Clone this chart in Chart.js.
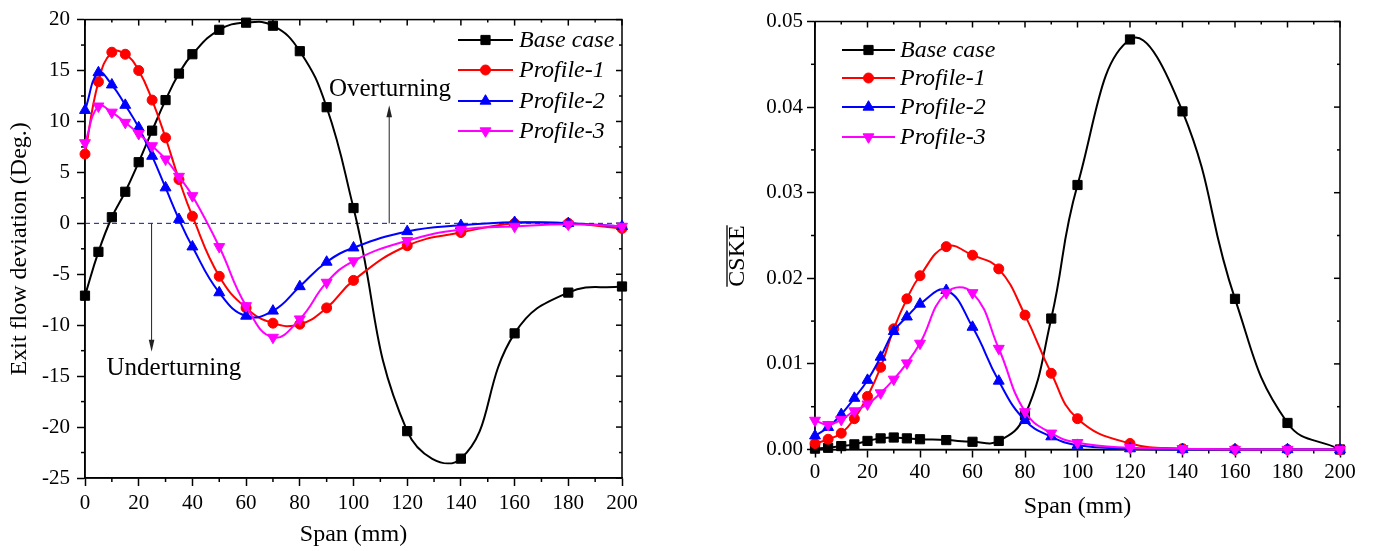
<!DOCTYPE html>
<html>
<head>
<meta charset="utf-8">
<script src="https://cdn.jsdelivr.net/npm/chart.js@4.4.0/dist/chart.umd.min.js"></script>
<style>
  html, body { margin: 0; padding: 0; background: #fff; }
  #wrap { position: relative; width: 1375px; height: 551px; overflow: hidden; }
  .panel { position: absolute; top: 0; height: 551px; }
  #left { left: 0; width: 700px; }
  #right { left: 700px; width: 675px; }
</style>
</head>
<body>
<div id="wrap">
  <div class="panel" id="left"><canvas id="deviationChart"></canvas></div>
  <div class="panel" id="right"><canvas id="cskeChart"></canvas></div>
</div>
<script>
// spanwise stations (mm), shared by every series
const spanMM = [0, 5, 10, 15, 20, 25, 30, 35, 40, 50, 60, 70, 80, 90, 100, 120, 140, 160, 180, 200];

// exit flow deviation (deg)
const devBase = [-7.1, -2.8, 0.6, 3.1, 6.0, 9.1, 12.1, 14.7, 16.6, 19.0, 19.7, 19.4, 16.9, 11.4, 1.5, -20.4, -23.1, -10.8, -6.8, -6.2];
const devP1   = [6.8, 13.9, 16.8, 16.6, 15.0, 12.1, 8.4, 4.3, 0.7, -5.2, -8.3, -9.8, -9.9, -8.3, -5.6, -2.2, -0.9, 0.0, 0.0, -0.5];
const devP2   = [11.1, 14.8, 13.6, 11.6, 9.4, 6.6, 3.5, 0.4, -2.3, -6.8, -9.1, -8.6, -6.2, -3.8, -2.4, -0.8, -0.2, 0.1, 0.0, -0.3];
const devP3   = [7.9, 11.5, 10.9, 9.9, 8.8, 7.6, 6.3, 4.6, 2.7, -2.3, -8.1, -11.2, -9.4, -5.8, -3.7, -1.7, -0.6, -0.3, -0.1, -0.3];

// pitch-averaged secondary kinetic energy
const cskeBase = [0.0001, 0.0002, 0.0004, 0.0006, 0.0010, 0.0013, 0.0014, 0.0013, 0.0012, 0.0011, 0.0009, 0.0010, 0.0040, 0.0153, 0.0309, 0.0479, 0.0395, 0.0176, 0.0031, 0.0000];
const cskeP1   = [0.0007, 0.0012, 0.0019, 0.0036, 0.0062, 0.0096, 0.0141, 0.0176, 0.0203, 0.0237, 0.0227, 0.0211, 0.0157, 0.0089, 0.0036, 0.0007, 0.0001, 0, 0, 0];
const cskeP2   = [0.0016, 0.0026, 0.0041, 0.0060, 0.0081, 0.0108, 0.0138, 0.0155, 0.0170, 0.0186, 0.0143, 0.0080, 0.0034, 0.0015, 0.0005, 0.0001, 0, 0, 0, 0];
const cskeP3   = [0.0034, 0.0029, 0.0035, 0.0045, 0.0053, 0.0066, 0.0082, 0.0101, 0.0124, 0.0183, 0.0183, 0.0118, 0.0044, 0.0019, 0.0008, 0.0002, 0.0001, 0, 0, 0];

const seriesNames = ['Base case', 'Profile-1', 'Profile-2', 'Profile-3'];

// reference line at zero deviation
const zeroSpan = [0, 200];
const zeroLine = [0, 0];

const SERIF = '"Liberation Serif", "Times New Roman", serif';
Chart.defaults.font.family = SERIF;
Chart.defaults.color = '#000';

const styles = [
  { color: '#000000', pointStyle: 'rect',     pointRadius: 6.5, rotation: 0 },
  { color: '#ff0000', pointStyle: 'circle',   pointRadius: 5,   rotation: 0 },
  { color: '#0000ff', pointStyle: 'triangle', pointRadius: 6.3, rotation: 0 },
  { color: '#ff00ff', pointStyle: 'triangle', pointRadius: 6.3, rotation: 180 }
];

function toXY(xs, ys) {
  return xs.map((x, i) => ({ x, y: ys[i] }));
}

function makeSeries(values) {
  return values.map((vals, i) => ({
    label: seriesNames[i],
    data: toXY(spanMM, vals),
    borderColor: styles[i].color,
    backgroundColor: styles[i].color,
    borderWidth: 2,
    pointStyle: styles[i].pointStyle,
    pointRadius: styles[i].pointRadius,
    pointRotation: styles[i].rotation,
    pointBorderWidth: 1,
    tension: 0.45,
    clip: false,
    order: 4 - i
  }));
}

// frame plus minor ticks (outside) and mirrored ticks (inside, top/right)
const frameTicks = {
  id: 'frameTicks',
  beforeDatasetsDraw(chart, args, opts) {
    const { ctx, chartArea: a, scales: { x, y } } = chart;
    ctx.save();
    ctx.strokeStyle = '#000';
    ctx.lineWidth = 1.5;
    ctx.strokeRect(a.left, a.top, a.right - a.left, a.bottom - a.top);
    const seg = (x1, y1, x2, y2) => {
      ctx.beginPath(); ctx.moveTo(x1, y1); ctx.lineTo(x2, y2); ctx.stroke();
    };
    const isMajor = (v, step) => Math.abs(v / step - Math.round(v / step)) < 1e-6;

    const nx = Math.round((x.max - x.min) / opts.xMinor);
    for (let i = 0; i <= nx; i++) {
      const v = x.min + i * opts.xMinor;
      const px = x.getPixelForValue(v);
      const major = isMajor(v - x.min, opts.xMajor);
      if (!major) seg(px, a.bottom, px, a.bottom + 4);
      seg(px, a.top, px, a.top + (major ? 6 : 3));
    }
    const ny = Math.round((y.max - y.min) / opts.yMinor);
    for (let i = 0; i <= ny; i++) {
      const v = y.min + i * opts.yMinor;
      const py = y.getPixelForValue(v);
      const major = isMajor(v - y.min, opts.yMajor);
      if (!major) seg(a.left, py, a.left - 4, py);
      seg(a.right, py, a.right - (major ? 6 : 3), py);
    }
    ctx.restore();
  }
};

// line-and-marker legend drawn inside the plot
const sampleLegend = {
  id: 'sampleLegend',
  afterDraw(chart, args, opts) {
    const { ctx } = chart;
    ctx.save();
    ctx.font = 'italic 24px ' + SERIF;
    ctx.textAlign = 'left';
    ctx.textBaseline = 'middle';
    seriesNames.forEach((name, i) => {
      const st = styles[i];
      const yy = opts.rows[i];
      ctx.strokeStyle = st.color;
      ctx.fillStyle = st.color;
      ctx.lineWidth = 2;
      ctx.beginPath();
      ctx.moveTo(opts.lineFrom, yy);
      ctx.lineTo(opts.lineTo, yy);
      ctx.stroke();
      ctx.lineWidth = 1;
      Chart.helpers.drawPoint(ctx, {
        pointStyle: st.pointStyle, radius: st.pointRadius, rotation: st.rotation, borderWidth: 1
      }, (opts.lineFrom + opts.lineTo) / 2, yy);
      ctx.fillStyle = '#000';
      ctx.fillText(name, opts.textX, yy + 1);
    });
    ctx.restore();
  }
};

// over/under-turning arrows on the deviation plot
const turnNotes = {
  id: 'turnNotes',
  afterDatasetsDraw(chart, args, opts) {
    const { ctx, scales: { x, y } } = chart;
    ctx.save();
    ctx.strokeStyle = '#222';
    ctx.fillStyle = '#222';
    ctx.lineWidth = 1;
    opts.arrows.forEach(ar => {
      const px = x.getPixelForValue(ar.x);
      const y0 = y.getPixelForValue(ar.from);
      const y1 = y.getPixelForValue(ar.to);
      const dir = y1 < y0 ? 1 : -1;
      ctx.beginPath();
      ctx.moveTo(px, y0);
      ctx.lineTo(px, y1 + dir * 10);
      ctx.stroke();
      ctx.beginPath();
      ctx.moveTo(px, y1);
      ctx.lineTo(px - 2.8, y1 + dir * 12);
      ctx.lineTo(px + 2.8, y1 + dir * 12);
      ctx.closePath();
      ctx.fill();
    });
    ctx.fillStyle = '#000';
    ctx.font = '25px ' + SERIF;
    ctx.textAlign = 'center';
    ctx.textBaseline = 'middle';
    opts.labels.forEach(lb => {
      ctx.fillText(lb.text, x.getPixelForValue(lb.x), y.getPixelForValue(lb.y));
    });
    ctx.restore();
  }
};

// overlined y-axis title for the CSKE plot
const overlineTitle = {
  id: 'overlineTitle',
  afterDraw(chart, args, opts) {
    const { ctx } = chart;
    ctx.save();
    ctx.translate(opts.cx, opts.cy);
    ctx.rotate(-Math.PI / 2);
    ctx.font = '24px ' + SERIF;
    ctx.textAlign = 'center';
    ctx.textBaseline = 'middle';
    ctx.fillStyle = '#000';
    ctx.fillText(opts.text, 0, 0);
    const w = ctx.measureText(opts.text).width;
    ctx.strokeStyle = '#000';
    ctx.lineWidth = 1.3;
    ctx.beginPath();
    ctx.moveTo(-w / 2, -11);
    ctx.lineTo(w / 2, -11);
    ctx.stroke();
    ctx.restore();
  }
};

function axis(opts) {
  return {
    type: 'linear',
    min: opts.min,
    max: opts.max,
    ticks: {
      stepSize: opts.step,
      font: { size: 21 },
      color: '#000',
      padding: opts.pad,
      maxRotation: 0,
      autoSkip: false,
      callback: opts.format
    },
    grid: { drawOnChartArea: false, tickLength: 8, tickColor: '#000', tickWidth: 1.5 },
    border: { color: '#000', width: 1.5 },
    title: opts.title ? {
      display: true, text: opts.title, font: { size: 24, lineHeight: 1 }, color: '#000', padding: opts.titlePad
    } : { display: false },
    afterFit: opts.fit
  };
}

const deviationSets = makeSeries([devBase, devP1, devP2, devP3]);
deviationSets.push({
  label: '',
  data: toXY(zeroSpan, zeroLine),
  borderColor: '#1010a0',
  borderWidth: 1,
  borderDash: [5, 4],
  pointRadius: 0,
  tension: 0,
  order: 10
});

new Chart(document.getElementById('deviationChart'), {
  type: 'line',
  data: { datasets: deviationSets },
  options: {
    responsive: true,
    maintainAspectRatio: false,
    animation: false,
    layout: { padding: { top: 15, right: 78, left: 0, bottom: 0 } },
    scales: {
      x: axis({ min: 0, max: 200, step: 20, pad: 5, title: 'Span (mm)', titlePad: { bottom: 4 },
                fit: s => { s.height = 73; } }),
      y: axis({ min: -25, max: 20, step: 5, pad: 7, title: 'Exit flow deviation (Deg.)', titlePad: { top: 8 },
                fit: s => { s.width = 85; } })
    },
    plugins: {
      legend: { display: false },
      tooltip: { enabled: false },
      frameTicks: { xMinor: 10, xMajor: 20, yMinor: 2.5, yMajor: 5 },
      sampleLegend: { lineFrom: 458, lineTo: 513, textX: 519, rows: [40, 70, 101, 131] },
      turnNotes: {
        arrows: [{ x: 113.3, from: 0, to: 11.6 }, { x: 24.8, from: 0, to: -12.6 }],
        labels: [{ text: 'Overturning', x: 113.6, y: 13.1 }, { text: 'Underturning', x: 33.1, y: -14.2 }]
      }
    }
  },
  plugins: [frameTicks, sampleLegend, turnNotes]
});

new Chart(document.getElementById('cskeChart'), {
  type: 'line',
  data: { datasets: makeSeries([cskeBase, cskeP1, cskeP2, cskeP3]) },
  options: {
    responsive: true,
    maintainAspectRatio: false,
    animation: false,
    layout: { padding: { top: 21.5, right: 35, left: 0, bottom: 0 } },
    scales: {
      x: axis({ min: 0, max: 200, step: 20, pad: 2, title: 'Span (mm)', titlePad: { bottom: 32 },
                fit: s => { s.height = 101.5; } }),
      y: axis({ min: 0, max: 0.05, step: 0.01, pad: 4, format: v => v.toFixed(2),
                fit: s => { s.width = 115; } })
    },
    plugins: {
      legend: { display: false },
      tooltip: { enabled: false },
      frameTicks: { xMinor: 10, xMajor: 20, yMinor: 0.005, yMajor: 0.01 },
      sampleLegend: { lineFrom: 142, lineTo: 195, textX: 200, rows: [50, 78, 107, 137] },
      overlineTitle: { text: 'CSKE', cx: 38, cy: 256 }
    }
  },
  plugins: [frameTicks, sampleLegend, overlineTitle]
});
</script>
</body>
</html>
